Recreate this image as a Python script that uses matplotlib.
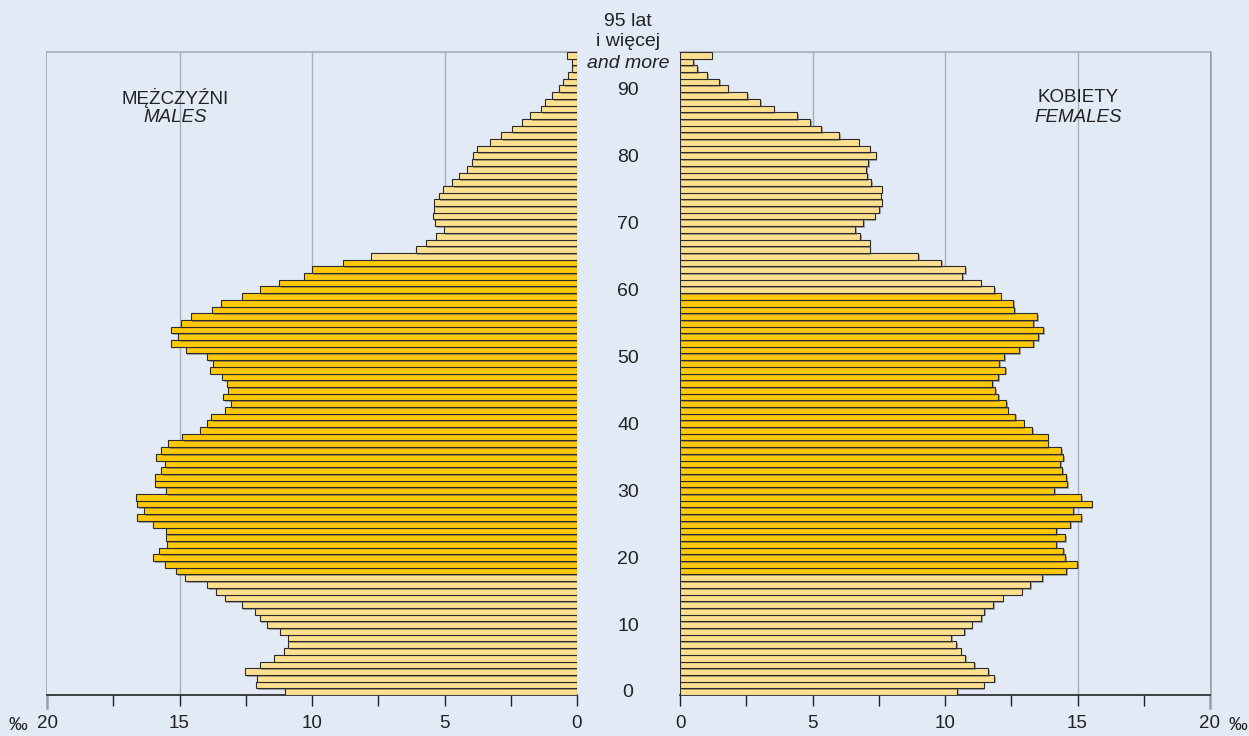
import matplotlib
matplotlib.use("Agg")
import matplotlib.pyplot as plt
import matplotlib.patheffects as pe
from matplotlib.lines import Line2D
from matplotlib.transforms import blended_transform_factory
import numpy as np

plt.rcParams['font.family'] = ['Liberation Sans', 'DejaVu Sans']

# wiek 0..95+ (promile ludnosci)
wiek = list(range(96))
mezczyzni = [11.01, 12.10, 12.07, 12.52, 11.97, 11.42, 11.04, 10.91, 10.91, 11.19,
             11.69, 11.97, 12.14, 12.65, 13.30, 13.61, 13.95, 14.78, 15.13, 15.53,
             16.00, 15.77, 15.46, 15.51, 15.51, 16.01, 16.59, 16.33, 16.60, 16.65,
             15.51, 15.91, 15.91, 15.69, 15.55, 15.87, 15.69, 15.42, 14.90, 14.22,
             13.95, 13.80, 13.30, 13.07, 13.34, 13.17, 13.21, 13.38, 13.85, 13.72,
             13.95, 14.77, 15.32, 15.04, 15.32, 14.96, 14.58, 13.76, 13.43, 12.65,
             11.97, 11.23, 10.32, 9.99, 8.83, 7.78, 6.09, 5.71, 5.33, 5.03,
             5.36, 5.45, 5.40, 5.38, 5.22, 5.07, 4.70, 4.46, 4.16, 3.97,
             3.92, 3.79, 3.28, 2.87, 2.46, 2.09, 1.77, 1.36, 1.22, 0.94,
             0.67, 0.53, 0.35, 0.20, 0.20, 0.39]
kobiety = [10.45, 11.46, 11.86, 11.62, 11.09, 10.77, 10.59, 10.42, 10.23, 10.73,
           11.00, 11.36, 11.49, 11.82, 12.18, 12.89, 13.21, 13.67, 14.57, 14.99,
           14.53, 14.47, 14.20, 14.53, 14.20, 14.72, 15.14, 14.84, 15.54, 15.14,
           14.11, 14.61, 14.57, 14.43, 14.35, 14.47, 14.39, 13.88, 13.88, 13.29,
           12.97, 12.66, 12.37, 12.32, 12.00, 11.90, 11.78, 12.00, 12.28, 12.05,
           12.24, 12.79, 13.33, 13.51, 13.71, 13.33, 13.48, 12.60, 12.56, 12.10,
           11.86, 11.34, 10.65, 10.77, 9.86, 8.99, 7.16, 7.16, 6.79, 6.62,
           6.92, 7.35, 7.52, 7.61, 7.57, 7.61, 7.21, 7.07, 7.03, 7.11,
           7.38, 7.16, 6.74, 6.01, 5.33, 4.92, 4.42, 3.53, 3.03, 2.54,
           1.80, 1.48, 1.02, 0.65, 0.50, 1.20]

# wiek produkcyjny
prod_m = (18, 64)
prod_k = (18, 59)

tlo = '#e1eaf5'
ciemny = '#ffc90a'
jasny = '#fee08f'
siatka = '#a9afb8'
tekst = '#222222'

fig = plt.figure(figsize=(12.49, 7.36), dpi=100, facecolor=tlo)
ax_m = fig.add_axes([47/1249, 41/736, 530/1249, 643/736])
ax_k = fig.add_axes([680/1249, 41/736, 530/1249, 643/736])

cien = [pe.SimplePatchShadow(offset=(1.2, -1.2), shadow_rgbFace='#555555', alpha=0.45), pe.Normal()]

for ax, vals, prod in [(ax_m, mezczyzni, prod_m), (ax_k, kobiety, prod_k)]:
    ax.set_facecolor(tlo)
    kolory = [ciemny if prod[0] <= a <= prod[1] else jasny for a in wiek]
    bars = ax.barh(wiek, vals, height=1.0, color=kolory, edgecolor='#2a2a2a',
                   linewidth=0.8, zorder=3)
    for b in bars:
        b.set_path_effects(cien)
    ax.set_ylim(-0.5, 95.5)
    ax.set_yticks([])
    ax.set_xticks(np.arange(0, 17.6, 2.5) if ax is ax_k else np.arange(0, 17.6, 2.5))
    ax.set_xticklabels([])
    ax.tick_params(axis='x', direction='out', length=8, width=1, color=tekst)
    for v in [5, 10, 15]:
        ax.axvline(v, color=siatka, lw=1, zorder=1)
    for s in ['left', 'right']:
        ax.spines[s].set_visible(False)
    ax.spines['top'].set_color(siatka)
    ax.spines['top'].set_linewidth(1.2)
    ax.spines['bottom'].set_color(tekst)
    ax.spines['bottom'].set_linewidth(1.2)

ax_m.set_xlim(20, 0)
ax_k.set_xlim(0, 20)

# linie brzegowe 20 promili, wystajace pod osia
for xp in [47, 1210]:
    fig.add_artist(Line2D([xp/1249, xp/1249], [(736-708)/736, (736-52)/736],
                          color='#9a9fa6', lw=1.8, zorder=0))

# opisy osi x
fs = 13.5
for ax, ticks in [(ax_m, [20, 15, 10, 5, 0]), (ax_k, [0, 5, 10, 15, 20])]:
    tr = blended_transform_factory(ax.transData, fig.transFigure)
    for t in ticks:
        ax.text(t, 1 - 724/736, str(t), transform=tr, ha='center', va='center', fontsize=fs, color=tekst)
fig.text(18/1249, 1 - 725/736, '‰', ha='center', va='center', fontsize=fs, color=tekst)
fig.text(1238/1249, 1 - 725/736, '‰', ha='center', va='center', fontsize=fs, color=tekst)

# wiek w srodku
fs2 = 14
tr = blended_transform_factory(fig.transFigure, ax_k.transData)
for a in range(0, 91, 10):
    ax_k.text(628/1249, a - 0.2, str(a), transform=tr, ha='center', va='center', fontsize=fs2,
              color=tekst, clip_on=False)
fig.text(628/1249, 1 - 21/736, '95 lat', ha='center', va='center', fontsize=fs2, color=tekst)
fig.text(628/1249, 1 - 42/736, 'i więcej', ha='center', va='center', fontsize=fs2, color=tekst)
fig.text(628/1249, 1 - 63/736, 'and more', ha='center', va='center', fontsize=fs2,
         style='italic', color=tekst)

fig.text(175/1249, 1 - 98/736, 'MĘŻCZYŹNI', ha='center', va='center', fontsize=fs, color=tekst)
fig.text(175/1249, 1 - 118/736, 'MALES', ha='center', va='center', fontsize=fs, style='italic', color=tekst)
fig.text(1078/1249, 1 - 98/736, 'KOBIETY', ha='center', va='center', fontsize=fs, color=tekst)
fig.text(1078/1249, 1 - 118/736, 'FEMALES', ha='center', va='center', fontsize=fs, style='italic', color=tekst)

fig.savefig('out.png', dpi=100, facecolor=tlo)
